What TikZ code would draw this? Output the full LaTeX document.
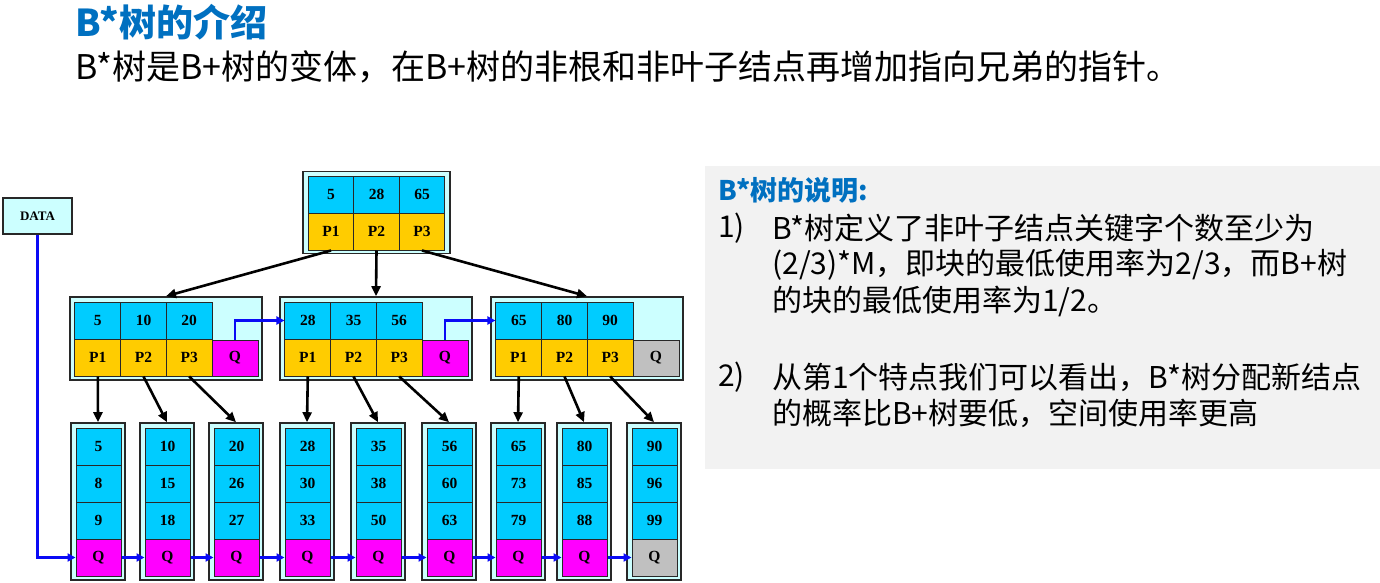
\documentclass[tikz,border=0pt]{standalone}
\usepackage{fontspec}
\setmainfont{Liberation Serif}
\newfontfamily\cjk{Noto Sans CJK SC}
\usetikzlibrary{arrows.meta}
\definecolor{titleblue}{RGB}{0,112,192}
\definecolor{keycyan}{RGB}{0,204,255}
\definecolor{ptrgold}{RGB}{255,204,0}
\definecolor{qmag}{RGB}{255,0,255}
\definecolor{qgray}{RGB}{192,192,192}
\definecolor{outerfill}{RGB}{204,255,255}
\definecolor{bordc}{RGB}{40,40,40}
\definecolor{panelgray}{RGB}{242,242,242}
\definecolor{arrblue}{RGB}{10,10,245}
\begin{document}
\begin{tikzpicture}[x=1pt,y=-1pt,
  title/.style={anchor=west,inner sep=0,text=titleblue,font=\cjk\bfseries\fontsize{37}{40}\selectfont},
  sub/.style={anchor=west,inner sep=0,font=\cjk\fontsize{34}{40}\selectfont},
  head/.style={anchor=west,inner sep=0,text=titleblue,font=\cjk\bfseries\fontsize{27}{32}\selectfont},
  body/.style={anchor=west,inner sep=0,font=\cjk\fontsize{30}{36}\selectfont},
  panel/.style={fill=panelgray,inner sep=0,minimum width=675pt,minimum height=303pt},
  outer/.style={draw=bordc,fill=outerfill,line width=1.6pt,inner sep=0},
  cell/.style={draw=bordc,line width=1pt,inner sep=0,font=\bfseries\fontsize{15.5}{17}\selectfont},
  keyc/.style={cell,fill=keycyan,minimum width=45.7pt,minimum height=37pt},
  ptrc/.style={cell,fill=ptrgold,minimum width=45.7pt,minimum height=37pt},
  qc/.style={cell,minimum width=46pt,minimum height=36pt},
  leafc/.style={cell,fill=keycyan,minimum width=45pt,minimum height=37pt},
  datab/.style={draw=bordc,fill=outerfill,line width=1.6pt,inner sep=0,minimum width=69pt,minimum height=36pt,font=\bfseries\fontsize{13}{15}\selectfont},
  karrow/.style={draw=black,line width=2.6pt,-{Triangle[length=10pt,width=9pt]}},
  barrow/.style={draw=arrblue,line width=2.8pt,-{Triangle[length=8pt,width=8pt]}}
]
\useasboundingbox (0,0) rectangle (1380,583);

% texts
\node[title] (title) at (75,22) {B*树的介绍};
\node[sub] (sub) at (75,67) {B*树是B+树的变体，在B+树的非根和非叶子结点再增加指向兄弟的指针。};

\node[panel] (panel) at (1042.5,317.5) {};
\node[head] (head) at (718,190) {B*树的说明:};
\node[body] (n1lab) at (718,228) {1)};
\node[body] (t1a) at (772,228) {B*树定义了非叶子结点关键字个数至少为};
\node[body] (t1b) at (772,265) {(2/3)*M，即块的最低使用率为2/3，而B+树};
\node[body] (t1c) at (772,301) {的块的最低使用率为1/2。};
\node[body] (n2lab) at (718,377) {2)};
\node[body] (t2a) at (772,377) {从第1个特点我们可以看出，B*树分配新结点};
\node[body] (t2b) at (772,413) {的概率比B+树要低，空间使用率更高};

% DATA
\node[datab] (data) at (37.5,216) {DATA};

% root
\node[outer,minimum width=147pt,minimum height=82pt] (root) at (376.5,212.5) {};
\node[keyc] (r-k1) at (331,194.5) {5};
\node[keyc] (r-k2) at (376.5,194.5) {28};
\node[keyc] (r-k3) at (422,194.5) {65};
\node[ptrc] (r-p1) at (331,231.5) {P1};
\node[ptrc] (r-p2) at (376.5,231.5) {P2};
\node[ptrc] (r-p3) at (422,231.5) {P3};

% level 2
\foreach \n/\X/\ka/\kb/\kc/\qcol in {1/70/5/10/20/qmag,2/280/28/35/56/qmag,3/491/65/80/90/qgray}{
  \node[outer,minimum width=192pt,minimum height=83pt] (n\n) at (\X+96,338.5) {};
  \node[keyc] (n\n-k1) at (\X+27.8,320.5) {\ka};
  \node[keyc] (n\n-k2) at (\X+73.5,320.5) {\kb};
  \node[keyc] (n\n-k3) at (\X+119.2,320.5) {\kc};
  \node[ptrc] (n\n-p1) at (\X+27.8,357.5) {P1};
  \node[ptrc] (n\n-p2) at (\X+73.5,357.5) {P2};
  \node[ptrc] (n\n-p3) at (\X+119.2,357.5) {P3};
  \node[qc,fill=\qcol] (n\n-q) at (\X+165,358) {Q};
}

% leaves
\foreach \i/\X/\a/\b/\c/\qcol in {1/71/5/8/9/qmag,2/140/10/15/18/qmag,3/209/20/26/27/qmag,4/280/28/30/33/qmag,5/351/35/38/50/qmag,6/422/56/60/63/qmag,7/491/65/73/79/qmag,8/557/80/85/88/qmag,9/627/90/96/99/qgray}{
  \node[outer,minimum width=54pt,minimum height=157pt] (l\i) at (\X+27,501.5) {};
  \node[leafc] (l\i-a) at (\X+27.5,446.5) {\a};
  \node[leafc] (l\i-b) at (\X+27.5,483.5) {\b};
  \node[leafc] (l\i-c) at (\X+27.5,520.5) {\c};
  \node[leafc,fill=\qcol] (l\i-q) at (\X+27.5,557.5) {Q};
}

% root -> level 2
\draw[karrow] (r-p1.south) -- (n1.north);
\draw[karrow] (r-p2.south) -- (n2.north);
\draw[karrow] (r-p3.south) -- (n3.north);

% level 2 -> leaves
\foreach \n in {1,2,3}{
  \foreach \k in {1,2,3}{
    \pgfmathtruncatemacro\lf{3*(\n-1)+\k}
    \draw[karrow] (n\n-p\k.south) -- (l\lf.north);
  }
}

% sibling pointers level 2
\draw[barrow] (n1-q.north) |- (n2-k1.west);
\draw[barrow] (n2-q.north) |- (n3-k1.west);

% leaf chain
\draw[barrow] (data.south) |- (l1-q.west);
\foreach \i in {1,...,8}{
  \pgfmathtruncatemacro\j{\i+1}
  \draw[barrow] (l\i-q.east) -- (l\j-q.west);
}
\end{tikzpicture}
\end{document}
